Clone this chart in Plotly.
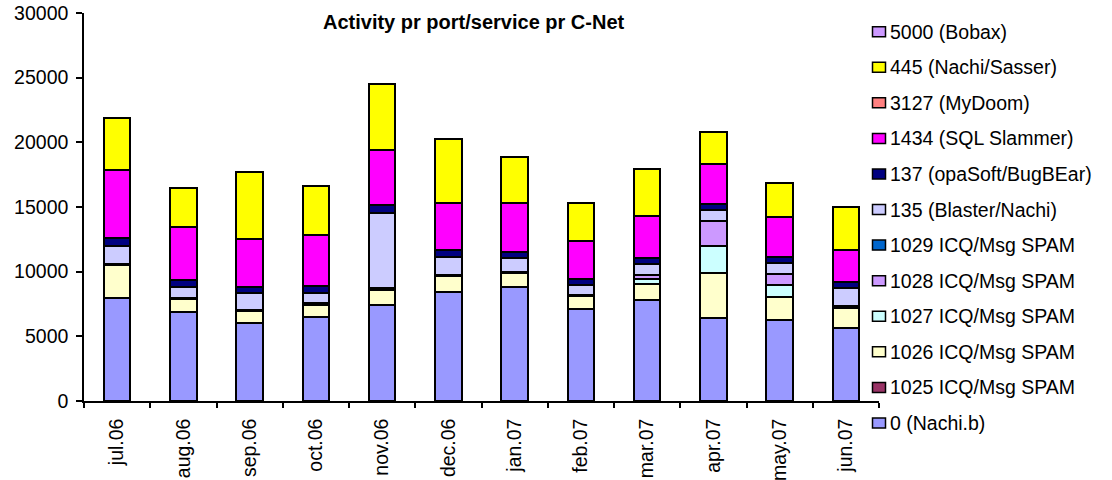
import plotly.graph_objects as go

# Monthly activity per port/service, stacked from bottom to top
months = ["jul.06", "aug.06", "sep.06", "oct.06", "nov.06", "dec.06",
          "jan.07", "feb.07", "mar.07", "apr.07", "may.07", "jun.07"]

port_0_nachi_b = [7930, 6890, 6040, 6505, 7410, 8440, 8780, 7120, 7840, 6400, 6300, 5610]
port_1025_spam = [0, 0, 0, 0, 0, 0, 0, 0, 0, 0, 0, 0]
port_1026_spam = [2550, 1010, 900, 950, 1180, 1220, 1080, 1020, 1200, 3460, 1750, 1600]
port_1027_spam = [0, 0, 0, 0, 0, 0, 0, 0, 425, 2140, 905, 0]
port_1028_spam = [0, 0, 0, 0, 0, 0, 0, 0, 270, 1890, 830, 0]
port_1029_spam = [150, 100, 130, 130, 170, 115, 130, 90, 0, 0, 0, 130]
port_135_blaster = [1370, 830, 1250, 730, 5750, 1330, 1040, 730, 850, 880, 900, 1360]
port_137_opasoft = [570, 520, 510, 565, 645, 565, 510, 440, 440, 465, 465, 515]
port_1434_slammer = [5290, 4130, 3670, 3950, 4260, 3620, 3795, 2990, 3275, 3100, 3050, 2455]
port_3127_mydoom = [0, 0, 0, 0, 0, 0, 0, 0, 0, 0, 0, 0]
port_445_sasser = [4000, 3020, 5235, 3820, 5110, 4955, 3560, 2945, 3615, 2455, 2680, 3355]
port_5000_bobax = [0, 0, 0, 0, 0, 0, 0, 0, 0, 0, 0, 0]

series = [
    ("0 (Nachi.b)", port_0_nachi_b, "#9999FF"),
    ("1025 ICQ/Msg SPAM", port_1025_spam, "#993366"),
    ("1026 ICQ/Msg SPAM", port_1026_spam, "#FFFFCC"),
    ("1027 ICQ/Msg SPAM", port_1027_spam, "#CCFFFF"),
    ("1028 ICQ/Msg SPAM", port_1028_spam, "#CC99FF"),
    ("1029 ICQ/Msg SPAM", port_1029_spam, "#0066CC"),
    ("135 (Blaster/Nachi)", port_135_blaster, "#CCCCFF"),
    ("137 (opaSoft/BugBEar)", port_137_opasoft, "#000080"),
    ("1434 (SQL Slammer)", port_1434_slammer, "#FF00FF"),
    ("3127 (MyDoom)", port_3127_mydoom, "#FF8080"),
    ("445 (Nachi/Sasser)", port_445_sasser, "#FFFF00"),
    ("5000 (Bobax)", port_5000_bobax, "#CC99FF"),
]

FONT = "Liberation Sans, Arial, sans-serif"
FS = 19.5
W, H = 1112, 480
L, R, T, B = 84, 233, 13, 79
plot_w = W - L - R
plot_h = H - T - B


def px_x(px):
    return (px - L) / plot_w


def px_y(py):
    return (H - B - py) / plot_h


fig = go.Figure()
for name, vals, color in series:
    fig.add_trace(go.Bar(
        x=months, y=vals, name=name,
        marker=dict(color=color, line=dict(color="black", width=2)),
        showlegend=False,
    ))

# Legend drawn as swatches + labels, top entry is the last stacked series
shapes = []
annotations = []
top_y, step = 31.7, 35.57
for i, (name, vals, color) in enumerate(reversed(series)):
    cy = top_y + i * step
    shapes.append(dict(
        type="rect", xref="paper", yref="paper",
        x0=px_x(872.5), x1=px_x(885.5), y0=px_y(cy + 5), y1=px_y(cy - 5),
        fillcolor=color, line=dict(color="black", width=1.5),
    ))
    annotations.append(dict(
        text=name, xref="paper", yref="paper",
        x=px_x(888), y=px_y(cy), xanchor="left", yanchor="middle",
        showarrow=False, font=dict(family=FONT, size=FS, color="black"),
    ))

annotations.append(dict(
    text="<b>Activity pr port/service pr C-Net</b>", xref="paper", yref="paper",
    x=px_x(474), y=px_y(22), xanchor="center", yanchor="middle",
    showarrow=False, font=dict(family=FONT, size=20, color="black"),
))

fig.update_layout(
    width=W, height=H,
    margin=dict(l=L, r=R, t=T, b=B, pad=0, autoexpand=False),
    barmode="stack", bargap=0.6,
    plot_bgcolor="white", paper_bgcolor="white",
    font=dict(family=FONT, size=FS, color="black"),
    shapes=shapes, annotations=annotations,
    xaxis=dict(
        type="category", tickson="boundaries", ticks="outside", ticklen=5,
        tickwidth=1.5, tickcolor="black", showline=True, linecolor="black",
        linewidth=1.5, tickangle=-90, showgrid=False, zeroline=False,
        automargin=False, ticklabelstandoff=8,
        tickfont=dict(family=FONT, size=FS, color="black"),
    ),
    yaxis=dict(
        range=[0, 30000], dtick=5000, tickformat="d", ticks="outside", ticklen=6,
        tickwidth=1.5, tickcolor="black", showline=True, linecolor="black",
        linewidth=1.5, showgrid=False, zeroline=False, automargin=False,
        ticklabelstandoff=4,
        tickfont=dict(family=FONT, size=FS, color="black"),
    ),
)

fig.write_html("out.html")
